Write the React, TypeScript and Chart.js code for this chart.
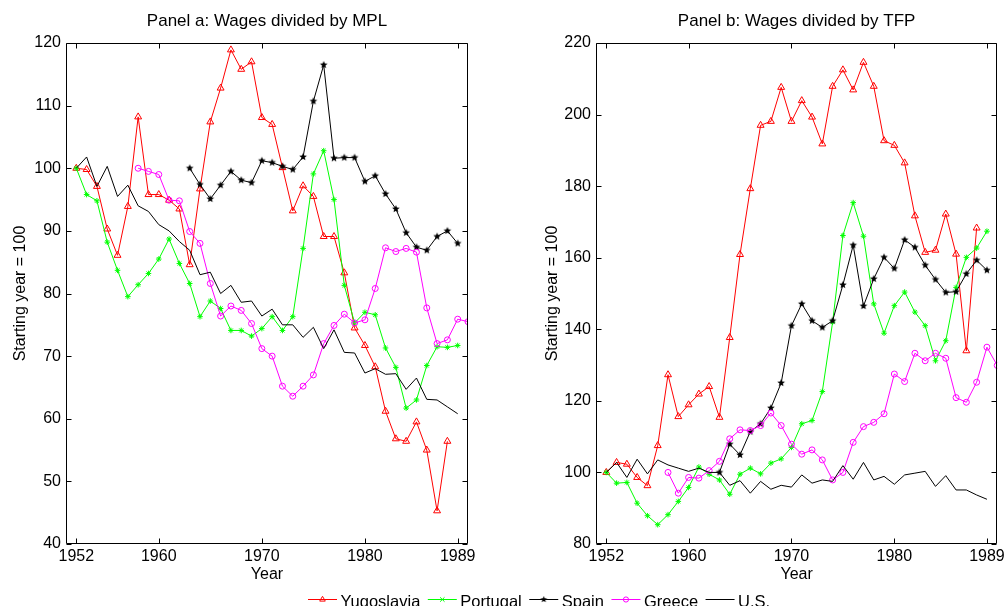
import React, { useEffect, useRef } from "react";
import { Chart, registerables } from "chart.js";

Chart.register(...registerables);

// ---------- data ----------
const years = [
  1952, 1953, 1954, 1955, 1956, 1957, 1958, 1959, 1960, 1961, 1962, 1963, 1964,
  1965, 1966, 1967, 1968, 1969, 1970, 1971, 1972, 1973, 1974, 1975, 1976, 1977,
  1978, 1979, 1980, 1981, 1982, 1983, 1984, 1985, 1986, 1987, 1988, 1989, 1990,
];
const xTickYears = [1952, 1960, 1970, 1980, 1989];
const seriesNames = ["Yugoslavia", "Portugal", "Spain", "Greece", "U.S."];

// Panel a: Wages divided by MPL
const yugoA = [100, 99.8, 97.1, 90.3, 86.1, 93.9, 108.2, 95.8, 95.8, 94.9, 93.5, 84.6, 96.7, 107.4, 112.8, 118.9, 115.8, 117.0, 108.1, 107.0, 100.1, 93.2, 97.2, 95.5, 89.1, 89.1, 83.3, 74.5, 71.7, 68.3, 61.2, 56.8, 56.4, 59.5, 55.0, 45.3, 56.4, null, null];
const portA = [100, 95.8, 94.8, 88.2, 83.7, 79.5, 81.4, 83.2, 85.5, 88.7, 84.8, 81.6, 76.3, 78.8, 77.6, 74.1, 74.1, 73.2, 74.4, 76.3, 74.1, 76.3, 87.2, 99.1, 102.8, 95.0, 81.3, 75.3, 77.0, 76.6, 71.3, 68.2, 61.7, 63.0, 68.5, 71.5, 71.4, 71.7, null];
const spainA = [null, null, null, null, null, null, null, null, null, null, null, 100, 97.4, 95.1, 97.3, 99.5, 98.1, 97.7, 101.2, 100.9, 100.3, 99.8, 101.8, 110.7, 116.5, 101.6, 101.7, 101.7, 97.9, 98.8, 95.9, 93.5, 89.7, 87.4, 86.9, 89.1, 90.0, 88.0, null];
const greeceA = [null, null, null, null, null, null, 100, 99.5, 99.0, 94.9, 94.8, 89.9, 88.0, 81.6, 76.4, 78.0, 77.3, 75.2, 71.2, 70.0, 65.2, 63.6, 65.2, 67.0, 72.0, 74.9, 76.7, 75.3, 75.8, 80.8, 87.3, 86.7, 87.2, 86.6, 77.7, 72.0, 72.6, 75.9, 75.5];
const usA = [100, 101.8, 97.1, 100.3, 95.5, 97.3, 94.0, 93.1, 91.0, 90.0, 88.3, 86.9, 83.0, 83.4, 80.0, 81.3, 78.6, 78.8, 76.4, 77.5, 75.0, 75.0, 73.0, 74.6, 71.2, 74.2, 70.6, 70.5, 67.3, 68.0, 67.1, 67.2, 64.7, 66.5, 63.1, 63.0, 61.9, 60.8, null];

// Panel b: Wages divided by TFP
const yugoB = [100, 102.8, 102.3, 98.6, 96.3, 107.5, 127.3, 115.6, 118.9, 121.9, 124.0, 115.4, 137.7, 160.9, 179.3, 197.0, 198.1, 207.6, 198.1, 203.9, 199.3, 191.8, 207.9, 212.5, 206.9, 214.6, 207.9, 192.7, 191.4, 186.5, 171.7, 161.5, 162.1, 172.2, 161.0, 134.0, 168.3, null, null];
const portB = [100, 97.0, 97.2, 91.4, 87.9, 85.4, 88.2, 91.9, 95.8, 101.5, 99.5, 97.9, 93.9, 99.5, 101.2, 99.6, 102.6, 103.8, 107.0, 113.6, 114.5, 122.6, 142.0, 166.2, 175.4, 166.0, 147.1, 138.9, 146.6, 150.4, 144.8, 141.0, 131.2, 136.8, 151.7, 160.1, 162.7, 167.4, null];
const spainB = [null, null, null, null, null, null, null, null, null, null, null, 100, 107.9, 104.9, 111.4, 113.6, 118.0, 125.0, 141.0, 147.1, 142.4, 140.5, 142.4, 152.4, 163.5, 146.5, 154.1, 160.1, 157.0, 165.0, 162.9, 157.9, 153.9, 150.3, 150.5, 155.5, 159.3, 156.5, null];
const greeceB = [null, null, null, null, null, null, 100, 94.2, 98.6, 98.4, 100.5, 103.1, 109.4, 111.9, 111.7, 113.1, 116.6, 113.1, 107.9, 105.1, 106.3, 103.5, 97.9, 100.0, 108.4, 112.8, 114.0, 116.4, 127.5, 125.4, 133.3, 131.2, 133.3, 131.9, 120.9, 119.6, 125.2, 135.0, 129.9];
const usB = [100, 102.8, 98.6, 103.7, 99.6, 103.5, 102.1, 101.2, 100.3, 101.2, 100.0, 100.0, 96.4, 97.7, 94.2, 97.5, 95.3, 96.4, 95.9, 99.3, 97.0, 97.9, 97.5, 101.9, 98.1, 102.8, 97.9, 98.9, 96.7, 99.3, 99.8, 100.3, 96.1, 99.1, 95.1, 95.1, 93.7, 92.5, null];

const colors = ["#ff0000", "#00ff00", "#000000", "#ff00ff", "#000000"];
const FONT = "'Liberation Sans', Arial, Helvetica, sans-serif";

// ---------- helpers ----------
function makePentagram(r: number, color: string): HTMLCanvasElement {
  const size = Math.ceil(r * 2 + 2);
  const c = document.createElement("canvas");
  c.width = size;
  c.height = size;
  const ctx = c.getContext("2d")!;
  ctx.translate(size / 2, size / 2);
  ctx.beginPath();
  for (let k = 0; k < 10; k++) {
    const rr = k % 2 === 0 ? r : r * 0.45;
    const a = -Math.PI / 2 + (k * Math.PI) / 5;
    const px = rr * Math.cos(a);
    const py = rr * Math.sin(a);
    if (k === 0) ctx.moveTo(px, py);
    else ctx.lineTo(px, py);
  }
  ctx.closePath();
  ctx.fillStyle = color;
  ctx.fill();
  return c;
}

const boxPlugin = {
  id: "matlabBox",
  afterDraw(chart: any) {
    const { ctx, chartArea: a, scales } = chart;
    const L = Math.round(a.left) + 0.5;
    const R = Math.round(a.right) - 0.5;
    const T = Math.round(a.top) + 0.5;
    const B = Math.round(a.bottom) - 0.5;
    const len = 5;
    ctx.save();
    ctx.strokeStyle = "#000";
    ctx.lineWidth = 1;
    ctx.beginPath();
    ctx.rect(L, T, R - L, B - T);
    scales.x.ticks.forEach((t: any) => {
      const px = Math.round(scales.x.getPixelForValue(t.value)) + 0.5;
      ctx.moveTo(px, B);
      ctx.lineTo(px, B - len);
      ctx.moveTo(px, T);
      ctx.lineTo(px, T + len);
    });
    scales.y.ticks.forEach((t: any) => {
      const py = Math.round(scales.y.getPixelForValue(t.value)) + 0.5;
      ctx.moveTo(L, py);
      ctx.lineTo(L + len, py);
      ctx.moveTo(R, py);
      ctx.lineTo(R - len, py);
    });
    ctx.stroke();
    ctx.restore();
  },
};

function buildConfig(
  title: string,
  vals: (number | null)[][],
  yMin: number,
  yMax: number,
  step: number,
  yAxisWidth: number,
  padRight: number,
  yTitlePad: number,
  star: HTMLCanvasElement
): any {
  const styles: any[] = ["triangle", "star", star, "circle", false];
  const radii = [4, 2.8, 4, 3, 0];
  const datasets = vals.map((v, si) => ({
    label: seriesNames[si],
    data: years.map((yr, i) => ({ x: yr, y: v[i] })),
    borderColor: colors[si],
    backgroundColor: "rgba(0,0,0,0)",
    borderWidth: 1,
    pointStyle: styles[si],
    pointRadius: radii[si],
    pointBorderColor: colors[si],
    pointBackgroundColor: "rgba(0,0,0,0)",
    pointBorderWidth: 1,
    tension: 0,
    spanGaps: false,
    order: 5 - si,
  }));
  return {
    type: "line",
    data: { datasets },
    options: {
      responsive: false,
      animation: false,
      events: [],
      layout: { padding: { left: 0, right: padRight, top: 0, bottom: 0 } },
      plugins: {
        legend: { display: false },
        tooltip: { enabled: false },
        title: {
          display: true,
          text: title,
          fullSize: false,
          color: "#000",
          font: { family: FONT, size: 17, weight: "normal" },
          padding: { top: 11.3, bottom: 11.3 },
        },
      },
      scales: {
        x: {
          type: "linear",
          min: 1951,
          max: 1990,
          afterBuildTicks: (s: any) => {
            s.ticks = xTickYears.map((v) => ({ value: v }));
          },
          afterFit: (s: any) => {
            s.height = 62;
          },
          grid: { display: false, drawTicks: false },
          border: { display: false },
          ticks: {
            autoSkip: false,
            maxRotation: 0,
            padding: 3,
            color: "#000",
            font: { family: FONT, size: 16 },
            callback: (v: any) => String(v),
          },
          title: {
            display: true,
            text: "Year",
            color: "#000",
            font: { family: FONT, size: 16 },
            padding: { top: 0, bottom: 22 },
          },
        },
        y: {
          min: yMin,
          max: yMax,
          afterFit: (s: any) => {
            s.width = yAxisWidth;
          },
          grid: { display: false, drawTicks: false },
          border: { display: false },
          ticks: {
            stepSize: step,
            padding: 5,
            color: "#000",
            font: { family: FONT, size: 16 },
          },
          title: {
            display: true,
            text: "Starting year = 100",
            color: "#000",
            font: { family: FONT, size: 16 },
            padding: { top: yTitlePad, bottom: 0 },
          },
        },
      },
    },
    plugins: [boxPlugin],
  };
}

function drawMarker(ctx: CanvasRenderingContext2D, kind: number, x: number, y: number, color: string, star: HTMLCanvasElement) {
  ctx.save();
  ctx.strokeStyle = color;
  ctx.lineWidth = 1;
  if (kind === 0) {
    const r = 3.2;
    ctx.beginPath();
    ctx.moveTo(x, y - r);
    ctx.lineTo(x + r * 0.87, y + r * 0.5);
    ctx.lineTo(x - r * 0.87, y + r * 0.5);
    ctx.closePath();
    ctx.stroke();
  } else if (kind === 1) {
    const r = 2.2;
    ctx.beginPath();
    ctx.moveTo(x - r, y - r);
    ctx.lineTo(x + r, y + r);
    ctx.moveTo(x - r, y + r);
    ctx.lineTo(x + r, y - r);
    ctx.moveTo(x - r, y);
    ctx.lineTo(x + r, y);
    ctx.stroke();
  } else if (kind === 2) {
    ctx.drawImage(star, x - star.width / 2, y - star.height / 2);
  } else if (kind === 3) {
    ctx.beginPath();
    ctx.arc(x, y, 2.6, 0, Math.PI * 2);
    ctx.stroke();
  }
  ctx.restore();
}

export default function App() {
  const leftRef = useRef<HTMLCanvasElement>(null);
  const rightRef = useRef<HTMLCanvasElement>(null);
  const legRef = useRef<HTMLCanvasElement>(null);

  useEffect(() => {
    const star = makePentagram(4, "#000");
    const starSmall = makePentagram(3.5, "#000");
    const left = new Chart(
      leftRef.current!,
      buildConfig("Panel a: Wages divided by MPL", [yugoA, portA, spainA, greeceA, usA], 40, 120, 10, 66, 36, 11, star)
    );
    const right = new Chart(
      rightRef.current!,
      buildConfig("Panel b: Wages divided by TFP", [yugoB, portB, spainB, greeceB, usB], 80, 220, 20, 92, 10, 39, star)
    );
    const legendPlugin = {
      id: "customLegend",
      afterDraw(chart: any) {
        const ctx: CanvasRenderingContext2D = chart.ctx;
        ctx.save();
        ctx.font = `16.5px ${FONT}`;
        ctx.textBaseline = "alphabetic";
        let x = 308;
        const y = 13.5;
        seriesNames.forEach((name, i) => {
          ctx.strokeStyle = colors[i];
          ctx.lineWidth = 1;
          ctx.beginPath();
          ctx.moveTo(x, y);
          ctx.lineTo(x + 29, y);
          ctx.stroke();
          drawMarker(ctx, i, x + 14.5, y, colors[i], starSmall);
          ctx.fillStyle = "#000";
          ctx.fillText(name, x + 32.5, 20.5);
          x += 32.5 + ctx.measureText(name).width + 7.5;
        });
        ctx.restore();
      },
    };
    const legend = new Chart(legRef.current!, {
      type: "line",
      data: { datasets: [] },
      options: {
        responsive: false,
        animation: false,
        events: [],
        plugins: { legend: { display: false }, tooltip: { enabled: false }, title: { display: false } },
        scales: { x: { display: false }, y: { display: false } },
      },
      plugins: [legendPlugin],
    } as any);
    return () => {
      left.destroy();
      right.destroy();
      legend.destroy();
    };
  }, []);

  return (
    <div style={{ position: "absolute", left: 0, top: 0, width: 1008, height: 606, background: "#fff", overflow: "hidden" }}>
      <canvas ref={leftRef} width={504} height={606} style={{ position: "absolute", left: 0, top: 0, width: 504, height: 606 }} />
      <canvas ref={rightRef} width={504} height={606} style={{ position: "absolute", left: 504, top: 0, width: 504, height: 606 }} />
      <canvas ref={legRef} width={1008} height={20} style={{ position: "absolute", left: 0, top: 586, width: 1008, height: 20 }} />
    </div>
  );
}
